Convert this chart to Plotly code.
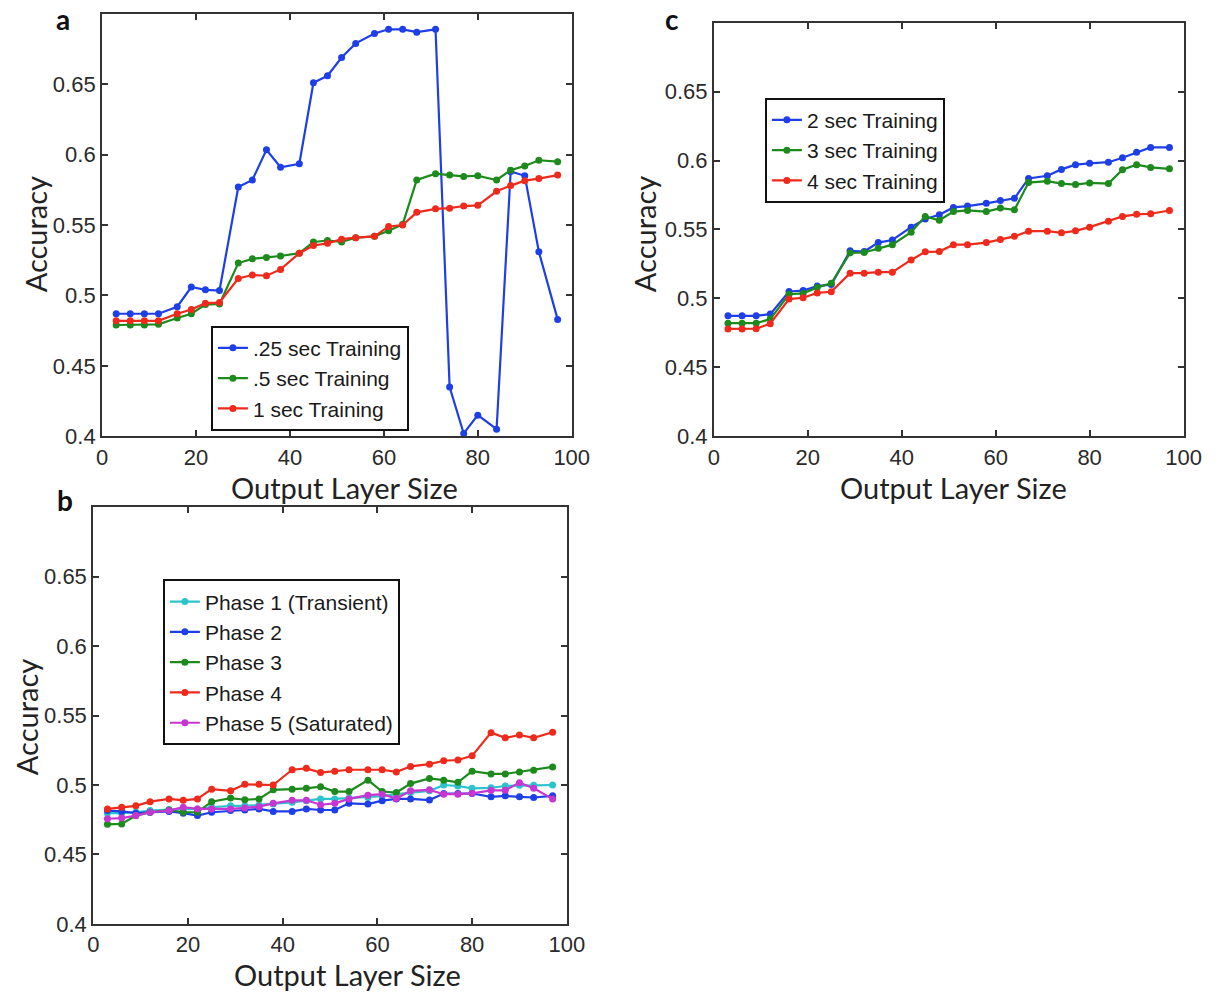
import plotly.graph_objects as go

# Output layer sizes (shared by every curve)
layer_size = [3, 6, 9, 12, 16, 19, 22, 25, 29, 32, 35, 38, 42, 45, 48,
              51, 54, 58, 61, 64, 67, 71, 74, 77, 80, 84, 87, 90, 93, 97]

# Panel a: short training windows
acc_025 = [0.487, 0.487, 0.487, 0.487, 0.492, 0.506, 0.504, 0.5035, 0.577, 0.582,
           0.6035, 0.591, 0.5935, 0.651, 0.656, 0.669, 0.679, 0.686, 0.689, 0.689,
           0.687, 0.689, 0.435, 0.402, 0.415, 0.405, 0.588, 0.585, 0.531, 0.483]
acc_05 = [0.479, 0.479, 0.479, 0.4795, 0.484, 0.487, 0.4935, 0.494, 0.523, 0.526,
          0.527, 0.528, 0.530, 0.538, 0.539, 0.538, 0.541, 0.542, 0.546, 0.5505,
          0.582, 0.5865, 0.5855, 0.5845, 0.585, 0.582, 0.589, 0.592, 0.596, 0.595]
acc_1 = [0.482, 0.482, 0.482, 0.482, 0.487, 0.490, 0.4945, 0.495, 0.512, 0.5145,
         0.514, 0.5185, 0.530, 0.5355, 0.537, 0.540, 0.541, 0.542, 0.549, 0.550,
         0.559, 0.5615, 0.562, 0.5635, 0.564, 0.574, 0.578, 0.5815, 0.583, 0.5855]

# Panel c: longer training windows
acc_2 = [0.4874, 0.4874, 0.4874, 0.4886, 0.505, 0.5057, 0.509, 0.510, 0.5345, 0.534,
         0.5405, 0.5424, 0.5517, 0.5576, 0.5607, 0.566, 0.567, 0.569, 0.571, 0.5726,
         0.587, 0.589, 0.5936, 0.597, 0.598, 0.5988, 0.602, 0.606, 0.6095, 0.6095]
acc_3 = [0.482, 0.482, 0.482, 0.485, 0.503, 0.5036, 0.508, 0.511, 0.533, 0.5333,
         0.5364, 0.539, 0.548, 0.5595, 0.5567, 0.563, 0.5638, 0.563, 0.5655, 0.5643,
         0.584, 0.585, 0.5833, 0.5826, 0.5838, 0.5833, 0.5933, 0.597, 0.595, 0.594]
acc_4 = [0.4779, 0.4779, 0.478, 0.4817, 0.4995, 0.5005, 0.504, 0.5048, 0.5183, 0.5183,
         0.519, 0.519, 0.5279, 0.5338, 0.534, 0.539, 0.539, 0.5405, 0.5428, 0.545,
         0.5488, 0.5488, 0.5476, 0.549, 0.5517, 0.556, 0.5595, 0.561, 0.5614, 0.5638]

# Panel b: training by phase
phase1 = [0.4797, 0.4797, 0.4804, 0.4816, 0.4823, 0.4823, 0.4828, 0.484, 0.485, 0.485,
          0.4856, 0.4863, 0.4875, 0.4887, 0.490, 0.490, 0.4906, 0.491, 0.492, 0.4934,
          0.4946, 0.4958, 0.500, 0.4993, 0.4976, 0.498, 0.4993, 0.4998, 0.4998, 0.500]
phase2 = [0.4816, 0.481, 0.4797, 0.4804, 0.481, 0.4797, 0.478, 0.4804, 0.4816, 0.482,
          0.4828, 0.481, 0.481, 0.4828, 0.482, 0.482, 0.4868, 0.4863, 0.4887, 0.490,
          0.490, 0.4892, 0.4939, 0.4939, 0.4939, 0.4915, 0.4922, 0.4915, 0.491, 0.4922]
phase3 = [0.4717, 0.472, 0.478, 0.4804, 0.482, 0.4804, 0.4804, 0.488, 0.4906, 0.4894,
          0.490, 0.4965, 0.497, 0.4976, 0.4988, 0.4953, 0.4953, 0.5035, 0.4953, 0.4946,
          0.501, 0.5047, 0.5035, 0.502, 0.510, 0.508, 0.508, 0.5094, 0.5106, 0.513]
phase4 = [0.4828, 0.484, 0.485, 0.488, 0.490, 0.489, 0.490, 0.497, 0.4958, 0.5005,
          0.5005, 0.500, 0.511, 0.512, 0.509, 0.510, 0.511, 0.511, 0.511, 0.5094,
          0.5134, 0.515, 0.5175, 0.518, 0.521, 0.5377, 0.534, 0.536, 0.534, 0.538]
phase5 = [0.4757, 0.4762, 0.478, 0.4804, 0.4816, 0.484, 0.4828, 0.4828, 0.4828, 0.4835,
          0.4844, 0.4868, 0.489, 0.489, 0.4858, 0.4868, 0.490, 0.4927, 0.4934, 0.4903,
          0.4958, 0.4965, 0.4934, 0.4934, 0.494, 0.4962, 0.4962, 0.5017, 0.4976, 0.490]

x_ticks = [0, 20, 40, 60, 80, 100]
y_ticks = [0.4, 0.45, 0.5, 0.55, 0.6, 0.65]
y_tick_text = ["0.4", "0.45", "0.5", "0.55", "0.6", "0.65"]

BLUE = "#1f3fe6"
GREEN = "#1c8a1c"
RED = "#ee2a1c"
CYAN = "#2cc4cc"
MAGENTA = "#c637d2"

TICK_FONT = dict(family="Liberation Sans, Arial, sans-serif", size=22, color="#2a2a2a")
TITLE_FONT = dict(family="Lato, Open Sans, sans-serif", size=29, color="#222222")
LEGEND_FONT = dict(family="Liberation Sans, Arial, sans-serif", size=21, color="#1a1a1a")

W, H = 1229, 1002

fig = go.Figure()


def add_series(y, name, color, axis_suffix, legend_id):
    fig.add_trace(go.Scatter(
        x=layer_size, y=y, name=name, mode="lines+markers",
        line=dict(color=color, width=2.2),
        marker=dict(color=color, size=7, symbol="circle"),
        xaxis="x" + axis_suffix, yaxis="y" + axis_suffix,
        legend=legend_id,
    ))


add_series(acc_025, ".25 sec Training", BLUE, "", "legend")
add_series(acc_05, ".5 sec Training", GREEN, "", "legend")
add_series(acc_1, "1 sec Training", RED, "", "legend")

add_series(acc_2, "2 sec Training", BLUE, "2", "legend2")
add_series(acc_3, "3 sec Training", GREEN, "2", "legend2")
add_series(acc_4, "4 sec Training", RED, "2", "legend2")

add_series(phase1, "Phase 1 (Transient)", CYAN, "3", "legend3")
add_series(phase2, "Phase 2", BLUE, "3", "legend3")
add_series(phase3, "Phase 3", GREEN, "3", "legend3")
add_series(phase4, "Phase 4", RED, "3", "legend3")
add_series(phase5, "Phase 5 (Saturated)", MAGENTA, "3", "legend3")


def px_x(px):
    return px / W


def px_y(py):
    return 1 - py / H


def xaxis(domain, anchor):
    return dict(domain=domain, anchor=anchor, range=[0, 100], tickvals=x_ticks,
                ticks="inside", ticklen=6, tickwidth=1.5, tickcolor="#333333",
                showline=True, linecolor="#333333", linewidth=2, mirror="ticks",
                showgrid=False, zeroline=False, tickfont=TICK_FONT)


def yaxis(domain, anchor):
    return dict(domain=domain, anchor=anchor, range=[0.4, 0.7], tickvals=y_ticks,
                ticktext=y_tick_text, ticks="inside", ticklen=6, tickwidth=1.5,
                tickcolor="#333333", showline=True, linecolor="#333333", linewidth=2,
                mirror="ticks", showgrid=False, zeroline=False, tickfont=TICK_FONT,
                ticklabelstandoff=0)


def legend_box(left_px, top_px):
    return dict(x=px_x(left_px), y=px_y(top_px), xanchor="left", yanchor="top",
                xref="paper", yref="paper", bgcolor="white", bordercolor="#111111",
                borderwidth=2, font=LEGEND_FONT, tracegroupgap=0, itemwidth=30)


annotations = []


def text(x, y, s, font, angle=0):
    annotations.append(dict(x=px_x(x), y=px_y(y), xref="paper", yref="paper",
                            text=s, showarrow=False, font=font, textangle=angle,
                            xanchor="center", yanchor="middle", borderpad=0))


letter_font = dict(family="Lato, Open Sans, sans-serif", size=28, color="#111111")
text(58, 19, "<b>a</b>", letter_font)
text(679, 19, "<b>c</b>", letter_font)
text(60, 507, "<b>b</b>", letter_font)

text(345, 494, "Output Layer Size", TITLE_FONT)
text(966, 494, "Output Layer Size", TITLE_FONT)
text(348, 987, "Output Layer Size", TITLE_FONT)
text(31, 237, "Accuracy", TITLE_FONT, -90)
text(652, 237, "Accuracy", TITLE_FONT, -90)
text(21, 727, "Accuracy", TITLE_FONT, -90)

fig.update_layout(
    width=W, height=H,
    margin=dict(l=0, r=0, t=0, b=0),
    paper_bgcolor="white", plot_bgcolor="white",
    showlegend=True,
    xaxis=xaxis([px_x(98), px_x(577)], "y"),
    yaxis=yaxis([px_y(442), px_y(14)], "x"),
    xaxis2=xaxis([px_x(722), px_x(1201)], "y2"),
    yaxis2=yaxis([px_y(442), px_y(23)], "x2"),
    xaxis3=xaxis([px_x(89), px_x(572)], "y3"),
    yaxis3=yaxis([px_y(936), px_y(514)], "x3"),
    legend=legend_box(209, 330),
    legend2=legend_box(774, 99),
    legend3=legend_box(160, 587),
    annotations=annotations,
)

fig.write_html("out.html")
